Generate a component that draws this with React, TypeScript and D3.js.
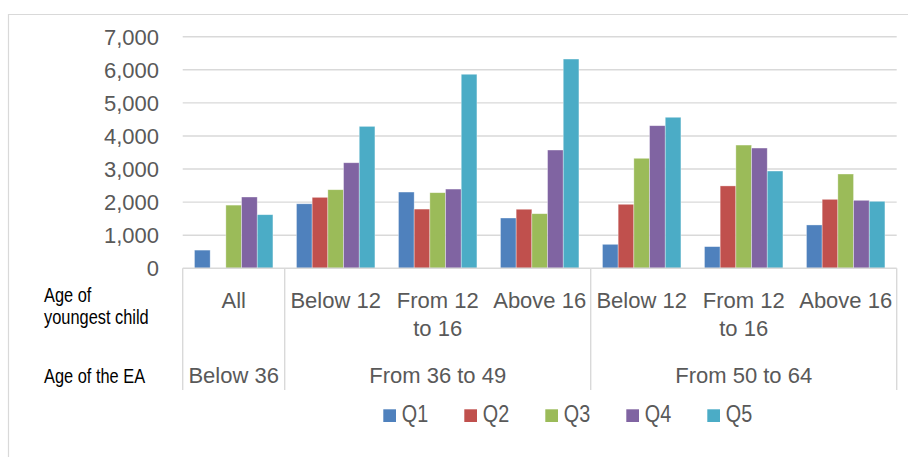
import React from "react";
import * as d3 from "d3";

const childLabels: string[][] = [
  ["All"],
  ["Below 12"],
  ["From 12", "to 16"],
  ["Above 16"],
  ["Below 12"],
  ["From 12", "to 16"],
  ["Above 16"],
];
const groupLabels = ["Below 36", "From 36 to 49", "From 50 to 64"];
const groupSpans = [1, 3, 3];
const seriesNames = ["Q1", "Q2", "Q3", "Q4", "Q5"];
const seriesColors = ["#4F81BD", "#C0504D", "#9BBB59", "#8064A2", "#4BACC6"];
const q1 = [550, 1950, 2305, 1520, 725, 655, 1310];
const q2 = [null, 2145, 1790, 1785, 1935, 2490, 2085];
const q3 = [1910, 2375, 2285, 1650, 3325, 3725, 2850];
const q4 = [2155, 3190, 2395, 3575, 4310, 3635, 2055];
const q5 = [1620, 4290, 5865, 6325, 4565, 2940, 2025];
const yTicks = [0, 1000, 2000, 3000, 4000, 5000, 6000, 7000];
const rowTitles = [["Age of", "youngest child"], ["Age of the EA"]];

const W = 908;
const H = 457;
const plotL = 182.7;
const plotR = 896.7;
const y0 = 268.3;
const yTop = 36.7;
const tableBottom = 390;

export default function App() {
  const series = [q1, q2, q3, q4, q5];
  const idx = childLabels.map((_, i) => i);
  const x0 = d3.scaleBand<number>().domain(idx).range([plotL, plotR]).padding(0);
  const x1 = d3
    .scaleBand<string>()
    .domain(seriesNames)
    .range([0, x0.bandwidth()])
    .paddingInner(0)
    .paddingOuter(0.75);
  const y = d3.scaleLinear().domain([0, 7000]).range([y0, yTop]);
  const fmt = d3.format(",");
  const font = "'Liberation Sans', Arial, sans-serif";
  const grey = "#595959";
  const lineC = "#d9d9d9";

  const bounds: number[] = [plotL];
  let acc = 0;
  groupSpans.forEach((s) => {
    acc += s;
    bounds.push(plotL + acc * x0.step());
  });

  return (
    <svg
      width={W}
      height={H}
      style={{ position: "absolute", left: 0, top: 0, background: "#fff" }}
    >
      {/* chart border */}
      <line x1={8.5} x2={8.5} y1={14} y2={H} stroke={lineC} strokeWidth={1.2} />
      <line x1={8} x2={W} y1={14.5} y2={14.5} stroke={lineC} strokeWidth={1.2} />

      {/* gridlines */}
      {yTicks.map((t) =>
        t === 0 ? null : (
          <line key={t} x1={plotL} x2={plotR} y1={y(t)} y2={y(t)} stroke={lineC} strokeWidth={1.4} />
        )
      )}
      {yTicks.map((t) => (
        <text
          key={"l" + t}
          x={159}
          y={y(t) + 8}
          textAnchor="end"
          fontFamily={font}
          fontSize={22}
          fill={grey}
        >
          {fmt(t)}
        </text>
      ))}

      {/* bars */}
      {series.map((vals, si) =>
        vals.map((v, ci) =>
          v == null ? null : (
            <rect
              key={si + "-" + ci}
              x={x0(ci)! + x1(seriesNames[si])!}
              y={y(v)}
              width={x1.bandwidth()}
              height={y0 - y(v)}
              fill={seriesColors[si]}
              stroke="#ffffff"
              strokeOpacity={0.5}
              strokeWidth={0.7}
            />
          )
        )
      )}

      <line x1={plotL} x2={plotR} y1={y0} y2={y0} stroke={lineC} strokeWidth={1.6} />
      {bounds.map((bx, i) => (
        <line key={"b" + i} x1={bx} x2={bx} y1={y0} y2={tableBottom} stroke={lineC} strokeWidth={1.4} />
      ))}

      {/* child labels */}
      {childLabels.map((lines, ci) => (
        <text
          key={"c" + ci}
          x={x0(ci)! + x0.bandwidth() / 2}
          y={307.7}
          textAnchor="middle"
          fontFamily={font}
          fontSize={22}
          fill={grey}
        >
          {lines.map((ln, li) => (
            <tspan key={li} x={x0(ci)! + x0.bandwidth() / 2} dy={li === 0 ? 0 : 28.5}>
              {ln}
            </tspan>
          ))}
        </text>
      ))}

      {/* group labels */}
      {groupLabels.map((g, gi) => (
        <text
          key={"g" + gi}
          x={(bounds[gi] + bounds[gi + 1]) / 2}
          y={383}
          textAnchor="middle"
          fontFamily={font}
          fontSize={22}
          fill={grey}
        >
          {g}
        </text>
      ))}

      {/* row titles (condensed) */}
      <text transform="translate(44,302.3) scale(0.82,1)" fontFamily={font} fontSize={20} fill="#000">
        {rowTitles[0].map((ln, li) => (
          <tspan key={li} x={0} dy={li === 0 ? 0 : 22}>
            {ln}
          </tspan>
        ))}
      </text>
      <text transform="translate(44,382.7) scale(0.82,1)" fontFamily={font} fontSize={20} fill="#000">
        {rowTitles[1][0]}
      </text>

      {/* legend */}
      {seriesNames.map((s, si) => {
        const lx = 383.3 + si * 81;
        return (
          <g key={"lg" + s}>
            <rect x={lx} y={409.3} width={12.7} height={12.7} fill={seriesColors[si]} />
            <text
              transform={`translate(${lx + 18.5},422) scale(0.86,1)`}
              fontFamily={font}
              fontSize={23}
              fill={grey}
            >
              {s}
            </text>
          </g>
        );
      })}
    </svg>
  );
}
